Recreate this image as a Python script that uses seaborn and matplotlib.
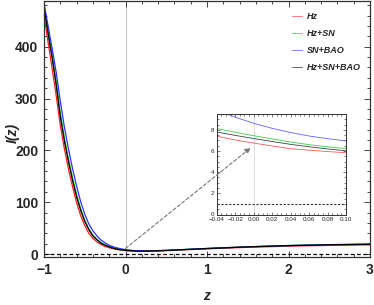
import numpy as np
import pandas as pd
import matplotlib
matplotlib.use("Agg")
import matplotlib.pyplot as plt
import seaborn as sns
from matplotlib.patches import ConnectionPatch
from matplotlib.ticker import MultipleLocator

# values
z_main = [-1.0, -0.95, -0.9, -0.85, -0.8, -0.75, -0.7, -0.65, -0.6, -0.55,
          -0.5, -0.45, -0.4, -0.35, -0.3, -0.25, -0.2, -0.15, -0.1, -0.05,
          0.0, 0.1, 0.2, 0.3, 0.5, 0.75, 1.0, 1.5, 2.0, 2.5, 3.0]
hz = [461, 408, 358, 305, 248, 203, 164, 130, 99, 74,
      55, 40, 30.5, 23.5, 18.3, 14.8, 12.2, 10.2, 8.7, 7.55,
      6.75, 5.82, 5.4, 5.5, 6.6, 8.4, 10.1, 13.1, 15.3, 16.8, 17.8]
hz_sn = [479, 430, 384, 332, 272, 224, 184, 147, 115, 87,
         65, 48.5, 36.5, 28.5, 22, 17.8, 14.5, 11.9, 9.9, 8.3,
         7.45, 6.23, 5.9, 6.0, 7.2, 9.1, 10.9, 14.1, 16.5, 18.1, 19.1]
sn_bao = [484, 440, 396, 350, 295, 245, 203, 165, 131, 101,
          77, 58, 45, 35, 27, 21.5, 17, 14, 11.8, 10.1,
          8.62, 6.95, 6.3, 6.2, 7.2, 9.0, 10.8, 14.0, 16.5, 18.2, 19.3]
hz_sn_bao = [475, 425, 378, 325, 265, 218, 178, 142, 110, 84,
             63, 47, 35, 27.5, 21, 17, 13.8, 11.3, 9.4, 7.95,
             7.18, 6.02, 5.7, 5.8, 7.0, 8.9, 10.7, 13.9, 16.3, 17.9, 18.9]

# zoomed region for the inset
z_ins = [-0.04, -0.02, 0.0, 0.02, 0.04, 0.06, 0.08, 0.10]
hz_ins = [7.4, 7.05, 6.75, 6.48, 6.22, 6.08, 5.95, 5.84]
hz_sn_ins = [8.12, 7.78, 7.45, 7.15, 6.85, 6.6, 6.4, 6.23]
sn_bao_ins = [9.9, 9.2, 8.62, 8.15, 7.75, 7.42, 7.17, 6.95]
hz_sn_bao_ins = [7.8, 7.48, 7.18, 6.9, 6.63, 6.4, 6.2, 6.02]

labels = ["Hz", "Hz+SN", "SN+BAO", "Hz+SN+BAO"]
colors = ["#ff2020", "#00c000", "#3030ff", "#000000"]
ins_ticks = ["\u22120.04", "\u22120.02", "0.00", "0.02", "0.04", "0.06", "0.08", "0.10"]

sns.set_style("ticks")
plt.rcParams["font.family"] = ["Liberation Sans", "DejaVu Sans"]
plt.rcParams["axes.unicode_minus"] = True

fig = plt.figure(figsize=(3.74, 3.05), dpi=100)
ax = fig.add_axes([44 / 374, 1 - 257 / 305, 326 / 374, 256 / 305])

main_df = pd.DataFrame({"z": z_main, "Hz": hz, "Hz+SN": hz_sn,
                        "SN+BAO": sn_bao, "Hz+SN+BAO": hz_sn_bao})
for lab, col in zip(labels, colors):
    sns.lineplot(data=main_df, x="z", y=lab, color=col, lw=0.9, ax=ax, label=lab)

ax.axvline(0, color="#c8c8c8", lw=0.8, zorder=0)
ax.axhline(1, color="black", lw=0.9, ls=(0, (3, 2)))
ax.set_xlim(-1, 3)
ax.set_ylim(-5.6, 488)
ax.xaxis.set_major_locator(MultipleLocator(1))
ax.xaxis.set_minor_locator(MultipleLocator(0.2))
ax.yaxis.set_major_locator(MultipleLocator(100))
ax.yaxis.set_minor_locator(MultipleLocator(20))
ax.tick_params(which="both", direction="in", top=True, right=True, width=0.7, color="#444444")
ax.tick_params(which="major", length=4, labelsize=10, pad=4)
ax.tick_params(which="minor", length=2)
for t in ax.get_xticklabels() + ax.get_yticklabels():
    t.set_fontweight("bold")
for s in ax.spines.values():
    s.set_linewidth(0.9)
    s.set_color("#333333")
ax.set_xlabel("z", fontsize=10, fontstyle="italic", fontweight="bold")
ax.set_ylabel("I(z)", fontsize=10, fontstyle="italic", fontweight="bold")
ax.xaxis.set_label_coords(0.5, -0.125)
ax.yaxis.set_label_coords(-0.075, 0.484)

leg = ax.legend(loc="upper left", bbox_to_anchor=(0.735, 0.99), frameon=False,
                handlelength=1.1, handletextpad=0.6, labelspacing=0.9,
                prop={"size": 6.5, "weight": "bold", "style": "italic"})
for h in leg.get_lines():
    h.set_linewidth(0.7)
    h.set_alpha(0.6)

# inset
axins = fig.add_axes([216.7 / 374, 1 - 214.5 / 305, 129.3 / 374, 100.5 / 305])
ins_df = pd.DataFrame({"z": z_ins, "Hz": hz_ins, "Hz+SN": hz_sn_ins,
                       "SN+BAO": sn_bao_ins, "Hz+SN+BAO": hz_sn_bao_ins})
for lab, col in zip(labels, colors):
    sns.lineplot(data=ins_df, x="z", y=lab, color=col, lw=0.6, alpha=0.75,
                 ax=axins, legend=False)
axins.axvline(0, color="#d8d8d8", lw=0.6, zorder=0)
axins.axhline(1, color="#333333", lw=0.8, ls=(0, (2, 1.5)))
axins.set_xlim(-0.04, 0.10)
axins.set_ylim(0, 9.5)
axins.set_xticks([-0.04, -0.02, 0.0, 0.02, 0.04, 0.06, 0.08, 0.10])
axins.set_xticklabels(ins_ticks)
axins.yaxis.set_major_locator(MultipleLocator(2))
axins.yaxis.set_minor_locator(MultipleLocator(0.5))
axins.xaxis.set_minor_locator(MultipleLocator(0.005))
axins.tick_params(which="both", direction="in", top=True, right=True, width=0.5, color="#444444")
axins.tick_params(which="major", length=2.5, labelsize=4.5, pad=2)
axins.tick_params(which="minor", length=1.2)
for t in axins.get_xticklabels() + axins.get_yticklabels():
    t.set_family(["Liberation Sans Narrow", "Liberation Sans"])
axins.set_xlabel("")
axins.set_ylabel("")
for s in axins.spines.values():
    s.set_linewidth(0.7)
    s.set_color("#333333")

con = ConnectionPatch(xyA=(0.0, 11), coordsA=ax.transData,
                      xyB=(-0.0032, 6.3), coordsB=axins.transData,
                      arrowstyle="-|>", mutation_scale=8, linestyle=(0, (3, 2)),
                      color="#777777", lw=0.8)
con.set_zorder(5)
fig.add_artist(con)

fig.savefig("out.png", dpi=100)
